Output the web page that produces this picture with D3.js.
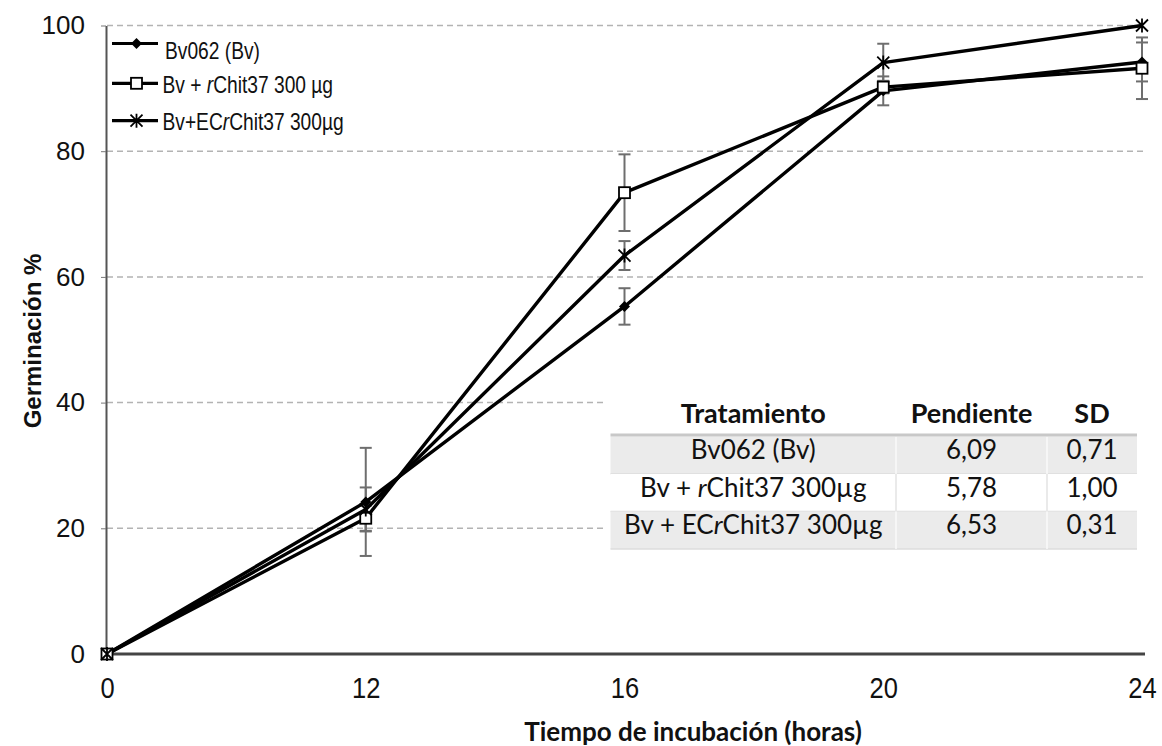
<!DOCTYPE html>
<html><head><meta charset="utf-8">
<script src="https://cdn.jsdelivr.net/npm/d3@7"></script>
<style>body{margin:0;background:#fff}svg{display:block}</style>
</head><body>
<script>
// ---- data ----
const hours = ["0", "12", "16", "20", "24"];
const bvValues   = [0, 24.2, 55.3, 89.6, 94.2];
const bvErr      = [0, 8.6, 2.9, 2.3, 3.1];
const rchValues  = [0, 21.6, 73.4, 90.2, 93.2];
const rchErr     = [0, 2.0, 6.1, 1.0, 4.9];
const ecValues   = [0, 23.0, 63.4, 94.1, 100];
const ecErr      = [0, 3.5, 2.3, 3.0, 0];
const yTicks = [0, 20, 40, 60, 80, 100];
const seriesNames = ["Bv062 (Bv)", "Bv + rChit37 300 µg", "Bv+ECrChit37 300µg"];
const tableHeader = ["Tratamiento", "Pendiente", "SD"];
const tableTreat = ["Bv062 (Bv)", "Bv + rChit37 300µg", "Bv + ECrChit37 300µg"];
const tableSlope = ["6,09", "5,78", "6,53"];
const tableSD = ["0,71", "1,00", "0,31"];

const W = 1162, H = 746;
const svg = d3.select("body").append("svg").attr("width", W).attr("height", H);
const x = d3.scalePoint().domain(hours).range([107, 1142]);
const y = d3.scaleLinear().domain([0, 100]).range([654, 25.5]);

const series = [
  {name: seriesNames[0], vals: bvValues, err: bvErr, marker: "diamond"},
  {name: seriesNames[1], vals: rchValues, err: rchErr, marker: "square"},
  {name: seriesNames[2], vals: ecValues, err: ecErr, marker: "star"}
];

// gridlines
svg.append("g").selectAll("line").data(yTicks.filter(d => d > 0)).join("line")
  .attr("x1", x("0")).attr("x2", x("24") + 2)
  .attr("y1", d => y(d)).attr("y2", d => y(d))
  .attr("stroke", "#b3b3b3").attr("stroke-width", 1.5).attr("stroke-dasharray", "6,4");

// y axis
const yAxis = svg.append("g").attr("transform", `translate(${x("0") - 1},0)`)
  .call(d3.axisLeft(y).tickValues(yTicks).tickSizeInner(5).tickSizeOuter(0).tickPadding(16));
yAxis.select(".domain").attr("stroke", "#555").attr("stroke-width", 2);
yAxis.selectAll(".tick line").attr("stroke", "#777");
yAxis.selectAll("text").attr("font-family", "'Liberation Sans', Arial, sans-serif").attr("font-size", 26).attr("fill", "#111");

// x axis
const xAxis = svg.append("g").attr("transform", `translate(0,${y(0)})`)
  .call(d3.axisBottom(x).tickSize(0).tickPadding(23));
xAxis.select(".domain").attr("stroke", "#444").attr("stroke-width", 3).attr("d", `M${x("0")},0H${x("24")+3}`);
xAxis.selectAll("text").attr("font-family", "'Liberation Sans', Arial, sans-serif")
  .attr("font-size", 30).attr("fill", "#111").attr("transform", "scale(0.85,1)");

// table background (covers gridlines)
const tX0 = 610.5, tX1 = 896, tX2 = 1047, tX3 = 1137;
svg.append("rect").attr("x", 603).attr("y", 388).attr("width", 545).attr("height", 168).attr("fill", "#fff");

// error bars
const eg = svg.append("g");
series.forEach(s => {
  s.vals.forEach((v, i) => {
    const e = s.err[i]; if (!e) return;
    const cx = x(hours[i]);
    eg.append("line").attr("x1", cx).attr("x2", cx).attr("y1", y(v - e)).attr("y2", y(v + e));
    [v - e, v + e].forEach(t => eg.append("line").attr("x1", cx - 6).attr("x2", cx + 6).attr("y1", y(t)).attr("y2", y(t)));
  });
});
eg.selectAll("line").attr("stroke", "#6e6e6e").attr("stroke-width", 2);

// lines
const line = d3.line().x((d, i) => x(hours[i])).y(d => y(d));
series.forEach(s => {
  svg.append("path").attr("d", line(s.vals)).attr("fill", "none").attr("stroke", "#000").attr("stroke-width", 3.4).attr("stroke-linejoin", "round");
});

function drawMarker(g, type, cx, cy) {
  if (type === "diamond") {
    g.append("path").attr("d", `M${cx},${cy-5.5}L${cx+5.5},${cy}L${cx},${cy+5.5}L${cx-5.5},${cy}Z`).attr("fill", "#000");
  } else if (type === "square") {
    g.append("rect").attr("x", cx - 5.5).attr("y", cy - 5.5).attr("width", 11).attr("height", 11)
      .attr("fill", "#fff").attr("stroke", "#000").attr("stroke-width", 1.8);
  } else {
    g.append("path").attr("d", `M${cx-6},${cy-6}L${cx+6},${cy+6}M${cx-6},${cy+6}L${cx+6},${cy-6}M${cx},${cy-7}L${cx},${cy+7}`)
      .attr("stroke", "#000").attr("stroke-width", 1.8).attr("fill", "none");
  }
}
const mg = svg.append("g");
series.forEach(s => s.vals.forEach((v, i) => drawMarker(mg, s.marker, x(hours[i]), y(v))));

// legend
const legLineY = [43.5, 83.3, 120.7];
const legTextY = [59.3, 93.3, 130];
const lg = svg.append("g");
series.forEach((s, k) => {
  lg.append("line").attr("x1", 112).attr("x2", 158).attr("y1", legLineY[k]).attr("y2", legLineY[k]).attr("stroke", "#000").attr("stroke-width", 3.2);
  drawMarker(lg, s.marker, 136.5, legLineY[k]);
  const t = lg.append("text").attr("transform", `translate(${k === 0 ? 165 : 162.5},${legTextY[k]}) scale(0.8,1)`)
    .attr("font-family", "'Liberation Sans', Arial, sans-serif").attr("font-size", 24).attr("fill", "#111");
  const parts = s.name.split(/(r(?=Chit))/);
  parts.forEach(p => { if (p) t.append("tspan").text(p).attr("font-style", p === "r" ? "italic" : null); });
});

// axis titles
svg.append("text").attr("transform", "translate(41,341) rotate(-90)").attr("text-anchor", "middle")
  .attr("font-family", "'Liberation Sans', Arial, sans-serif").attr("font-weight", "bold").attr("font-size", 24).attr("fill", "#111")
  .text("Germinación %");
svg.append("text").attr("x", 693).attr("y", 741).attr("text-anchor", "middle")
  .attr("font-family", "Lato, 'Open Sans', sans-serif").attr("font-weight", "bold").attr("font-size", 26).attr("fill", "#111")
  .text("Tiempo de incubación (horas)");

// table
const tg = svg.append("g").attr("font-family", "Lato, 'Open Sans', sans-serif").attr("fill", "#111");
const colC = [(tX0 + tX1) / 2, (tX1 + tX2) / 2, (tX2 + tX3) / 2];
const rowTop = [436.5, 474, 511.5], rowH = 37.5;
rowTop.forEach((rt, r) => {
  tg.append("rect").attr("x", tX0).attr("y", rt).attr("width", tX3 - tX0).attr("height", rowH)
    .attr("fill", r % 2 === 0 ? "#ebebeb" : "#fff");
  tg.append("line").attr("x1", tX0).attr("x2", tX3).attr("y1", rt + rowH).attr("y2", rt + rowH).attr("stroke", "#dcdcdc").attr("stroke-width", 1.5);
  [tX1, tX2].forEach(cx => tg.append("line").attr("x1", cx).attr("x2", cx).attr("y1", rt).attr("y2", rt + rowH)
    .attr("stroke", r % 2 === 0 ? "#fafafa" : "#e3e3e3").attr("stroke-width", 1.5));
});
tg.append("line").attr("x1", tX0).attr("x2", tX3).attr("y1", 435).attr("y2", 435).attr("stroke", "#c8c8c8").attr("stroke-width", 3);
tableHeader.forEach((h, c) => tg.append("text").attr("x", colC[c]).attr("y", 423).attr("text-anchor", "middle")
  .attr("font-weight", "bold").attr("font-size", 27).text(h));
tableTreat.forEach((t, r) => {
  const base = rowTop[r] + 22.5;
  const te = tg.append("text").attr("x", colC[0]).attr("y", base).attr("text-anchor", "middle").attr("font-size", 26);
  t.split(/(r(?=Chit))/).forEach(p => { if (p) te.append("tspan").text(p).attr("font-style", p === "r" ? "italic" : null); });
  tg.append("text").attr("x", colC[1]).attr("y", base).attr("text-anchor", "middle").attr("font-size", 26).text(tableSlope[r]);
  tg.append("text").attr("x", colC[2]).attr("y", base).attr("text-anchor", "middle").attr("font-size", 26).text(tableSD[r]);
});
</script>
</body></html>
